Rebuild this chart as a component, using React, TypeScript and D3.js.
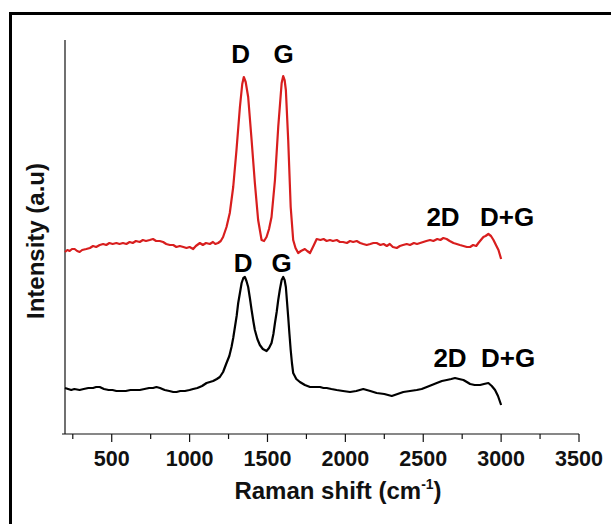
import React from "react";
import * as d3 from "d3";

// Raman spectra (wavenumber cm^-1, intensity a.u.)
const redSpectrum: [number, number][] = [
  [200,182],[215,184],[230,183],[245,185],[262,185],[278,183],[294,182],[310,184],[337,185],[360,186],[380,188],[400,187],[423,189],[445,190],[465,189],[485,191],[506,190],[530,191],[550,190],[572,191],[594,190],[615,192],[635,191],[655,193],[680,192],[700,194],[720,193],[744,194],[765,195],[785,193],[808,193],[830,192],[850,190],[873,189],[895,189],[915,187],[937,188],[960,187],[980,186],[1000,187],[1023,185],[1040,188],[1066,191],[1085,189],[1105,191],[1130,190],[1150,192],[1165,190],[1183,191],[1200,193],[1215,197],[1237,207],[1258,221],[1280,247],[1301,284],[1323,327],[1338,350],[1348,357],[1360,352],[1376,337],[1398,294],[1419,251],[1440,214],[1462,194],[1478,193],[1494,197],[1510,205],[1526,217],[1548,254],[1569,307],[1591,351],[1601,358],[1610,354],[1618,344],[1633,294],[1649,227],[1665,194],[1680,186],[1697,181],[1715,183],[1740,185],[1755,183],[1773,181],[1795,188],[1816,195],[1840,194],[1860,195],[1880,193],[1901,194],[1920,193],[1945,194],[1965,192],[1985,192],[2010,191],[2030,193],[2050,192],[2073,193],[2095,191],[2115,190],[2137,189],[2160,190],[2180,191],[2201,191],[2225,189],[2245,190],[2266,188],[2285,190],[2305,187],[2330,186],[2350,188],[2370,189],[2394,190],[2415,189],[2440,191],[2460,190],[2480,191],[2500,192],[2520,193],[2544,194],[2565,193],[2590,195],[2610,194],[2629,196],[2650,195],[2670,193],[2694,191],[2715,190],[2735,189],[2758,188],[2780,187],[2801,187],[2820,189],[2840,188],[2854,191],[2870,194],[2886,197],[2900,198],[2918,200],[2935,198],[2951,194],[2970,188],[2983,184],[3000,175]
];

const blackSpectrum: [number, number][] = [
  [200,46],[220,45],[240,44],[260,45],[294,44],[320,45],[350,46],[380,46],[400,47],[423,47],[450,45],[480,44],[505,44],[530,43],[560,43],[590,43],[620,44],[650,44],[680,44],[710,45],[740,46],[765,46],[787,47],[810,46],[840,44],[870,43],[895,42],[916,42],[940,43],[970,43],[1000,44],[1023,45],[1050,46],[1080,48],[1109,51],[1130,52],[1151,53],[1175,55],[1194,57],[1215,62],[1237,71],[1255,78],[1269,87],[1280,96],[1291,107],[1302,118],[1312,131],[1323,141],[1334,151],[1345,156],[1355,157],[1365,153],[1376,147],[1387,136],[1398,124],[1410,112],[1419,104],[1435,95],[1451,89],[1470,85],[1494,83],[1510,86],[1526,91],[1538,100],[1548,111],[1559,122],[1569,134],[1580,145],[1591,154],[1601,157],[1610,154],[1618,147],[1625,133],[1633,117],[1641,100],[1649,84],[1657,71],[1665,61],[1685,55],[1708,52],[1740,49],[1773,47],[1805,47],[1837,47],[1860,46],[1880,46],[1910,45],[1944,44],[1985,43],[2030,42],[2070,43],[2115,45],[2160,43],[2201,41],[2250,40],[2298,38],[2335,40],[2372,42],[2415,43],[2458,44],[2490,45],[2523,47],[2555,49],[2587,51],[2620,53],[2651,54],[2680,55],[2704,56],[2730,55],[2758,54],[2780,52],[2801,50],[2830,49],[2865,49],[2890,50],[2918,51],[2940,48],[2961,44],[2980,38],[3000,29]
];

const majorTicks = [500, 1000, 1500, 2000, 2500, 3000, 3500];
const minorTicks = [250, 750, 1250, 1750, 2250, 2750, 3250];

// peak annotations: [label, wavenumber, intensity (baseline)]
const redLabels: [string, number, number][] = [
  ["D", 1327, 371], ["G", 1604, 371], ["2D", 2627, 208], ["D+G", 3039, 208]
];
const blackLabels: [string, number, number][] = [
  ["D", 1344, 162], ["G", 1591, 162], ["2D", 2672, 67], ["D+G", 3045, 67]
];

const W = 611, H = 524;
const FONT = "Arial, 'Liberation Sans', Helvetica, sans-serif";

export default function App() {
  const x = d3.scaleLinear().domain([200, 3500]).range([65, 579]);
  const y = d3.scaleLinear().domain([0, 394]).range([434, 40]);
  const line = d3.line<[number, number]>().x(d => x(d[0])).y(d => y(d[1])).curve(d3.curveLinear);

  return (
    <svg width={W} height={H} style={{ position: "absolute", left: 0, top: 0, background: "#fff" }}>
      {/* frame */}
      <line x1={9} x2={W} y1={13.5} y2={13.5} stroke="#000" strokeWidth={3} />
      <line x1={10.5} x2={10.5} y1={12} y2={H} stroke="#000" strokeWidth={3} />

      {/* axes */}
      <line x1={x(200)} x2={x(200)} y1={y(394)} y2={y(0)} stroke="#111" strokeWidth={1.2} />
      <line x1={62} x2={x(3500)} y1={y(0)} y2={y(0)} stroke="#111" strokeWidth={1.2} />
      {majorTicks.map(t => (
        <line key={"M" + t} x1={x(t)} x2={x(t)} y1={y(0)} y2={y(0) + 8} stroke="#111" strokeWidth={1.2} />
      ))}
      {minorTicks.map(t => (
        <line key={"m" + t} x1={x(t)} x2={x(t)} y1={y(0)} y2={y(0) + 5} stroke="#111" strokeWidth={1.2} />
      ))}
      {majorTicks.map(t => (
        <text key={"L" + t} x={x(t)} y={466} textAnchor="middle" fontFamily={FONT} fontWeight="bold" fontSize={21.5} fill="#111">
          {t}
        </text>
      ))}

      {/* axis titles */}
      <text x={338} y={499} textAnchor="middle" fontFamily={FONT} fontWeight="bold" fontSize={24} fill="#111">
        Raman shift (cm<tspan fontSize={14} dy={-10}>-1</tspan><tspan dy={10}>)</tspan>
      </text>
      <text transform="translate(44,241) rotate(-90)" textAnchor="middle" fontFamily={FONT} fontWeight="bold" fontSize={24} fill="#111">
        Intensity (a.u)
      </text>

      {/* spectra */}
      <path d={line(redSpectrum) || ""} fill="none" stroke="#d81e1e" strokeWidth={2.2} strokeLinejoin="round" />
      <path d={line(blackSpectrum) || ""} fill="none" stroke="#000" strokeWidth={2.2} strokeLinejoin="round" />

      {/* peak labels */}
      {[...redLabels, ...blackLabels].map(([s, wx, wy], i) => (
        <text key={"p" + i} x={x(wx)} y={y(wy)} textAnchor="middle" fontFamily={FONT} fontWeight="bold" fontSize={26} fill="#000">
          {s}
        </text>
      ))}
    </svg>
  );
}
